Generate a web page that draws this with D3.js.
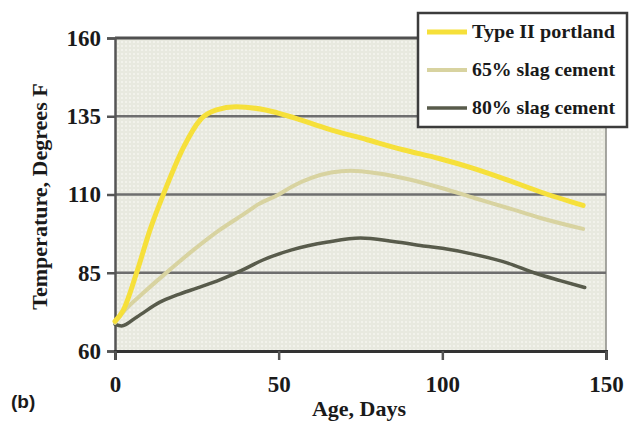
<!DOCTYPE html>
<html>
<head>
<meta charset="utf-8">
<script src="https://cdn.jsdelivr.net/npm/d3@7"></script>
<style>
    body { margin: 0; background: #fff; }
    svg text { font-family: "Liberation Serif", "Times New Roman", serif; font-weight: bold; fill: #1a1a1a; }
</style>
</head>
<body>
<svg id="chart" width="633" height="429"></svg>
<script>
"use strict";

// values
const seriesNames = ["Type II portland", "65% slag cement", "80% slag cement"];
const seriesColors = ["#f6e03a", "#d8d3a0", "#585b4b"];

const portlandDays = [0, 2.5, 6.6, 10.7, 15.3, 21, 26, 31, 37, 46, 55, 65, 77, 88, 99, 109, 120, 130, 143];
const portlandTemp = [69.5, 73, 85, 98.7, 111.4, 125.2, 133.8, 137, 138, 137, 134.4, 131, 127.5, 124.3, 121.5, 118.5, 114.6, 110.8, 106.5];

const slag65Days = [0, 3, 8.6, 15.9, 24, 32, 39, 44, 50, 54, 60, 66, 72, 80, 90, 100, 110, 120, 130, 143];
const slag65Temp = [69, 73, 78.5, 85.2, 92.3, 98.7, 103.5, 107, 110, 112.5, 115.3, 117, 117.6, 116.8, 114.8, 112, 108.8, 105.7, 102.5, 99];

const slag80Days = [0, 2, 6.7, 13.7, 19, 25, 32, 39, 45, 54, 65, 75, 85, 95, 100, 110, 120, 128, 136, 143.5];
const slag80Temp = [68.5, 68, 70.9, 75.6, 77.9, 80.1, 82.7, 85.9, 89, 92.3, 94.8, 96.1, 95, 93.5, 92.8, 90.8, 88.1, 85, 82.5, 80.3];

const yTicks = [60, 85, 110, 135, 160];
const xTicks = [0, 50, 100, 150];

const svg = d3.select("#chart");
const margin = { top: 38, right: 27, bottom: 78, left: 115 };
const width = 633, height = 429;

const x = d3.scaleLinear().domain([0, 150]).range([margin.left, width - margin.right]);
const y = d3.scaleLinear().domain([60, 160]).range([height - margin.bottom, margin.top]);

// dotted background
const defs = svg.append("defs");
const pat = defs.append("pattern")
    .attr("id", "dots")
    .attr("width", 4).attr("height", 4)
    .attr("patternUnits", "userSpaceOnUse");
pat.append("rect").attr("width", 4).attr("height", 4).attr("fill", "#e8e9df");
pat.append("circle").attr("cx", 2).attr("cy", 2).attr("r", 0.9).attr("fill", "#f7f7f1");

svg.append("rect")
    .attr("x", x(0)).attr("y", y(160))
    .attr("width", x(150) - x(0)).attr("height", y(60) - y(160))
    .attr("fill", "url(#dots)");

// right border
svg.append("line")
    .attr("x1", x(150)).attr("x2", x(150))
    .attr("y1", y(160)).attr("y2", y(60))
    .attr("stroke", "#8a8a84").attr("stroke-width", 1.5);

// gridlines
svg.selectAll(".grid").data(yTicks.filter(d => d > 60))
    .enter().append("line")
    .attr("class", "grid")
    .attr("x1", x(0)).attr("x2", x(150))
    .attr("y1", d => y(d)).attr("y2", d => y(d))
    .attr("stroke", d => d === 160 ? "#505050" : "#6e6e6e")
    .attr("stroke-width", d => d === 160 ? 3 : 2.5);

// axes
const yAxis = svg.append("g")
    .attr("transform", "translate(" + x(0) + ",0)")
    .call(d3.axisLeft(y).tickValues(yTicks).tickSize(8).tickPadding(6).tickFormat(d3.format("d")));
const xAxis = svg.append("g")
    .attr("transform", "translate(0," + y(60) + ")")
    .call(d3.axisBottom(x).tickValues(xTicks).tickSize(9).tickPadding(12).tickFormat(d3.format("d")));

[yAxis, xAxis].forEach(g => {
    g.select(".domain").attr("stroke", "#555").attr("stroke-width", 2.5);
    g.selectAll(".tick line").attr("stroke", "#555").attr("stroke-width", 2.5);
    g.selectAll(".tick text")
        .style("font-family", "'Liberation Serif', serif")
        .style("font-weight", "bold")
        .style("font-size", "23px")
        .attr("fill", "#1a1a1a");
});
xAxis.select(".domain").attr("stroke", "#333").attr("stroke-width", 3);
xAxis.selectAll(".tick text").attr("dy", "0.85em");

// lines
const series = [
    { name: seriesNames[0], days: portlandDays, temp: portlandTemp, color: seriesColors[0], w: 5 },
    { name: seriesNames[1], days: slag65Days, temp: slag65Temp, color: seriesColors[1], w: 4 },
    { name: seriesNames[2], days: slag80Days, temp: slag80Temp, color: seriesColors[2], w: 3.5 }
];

const line = d3.line()
    .x(d => x(d[0]))
    .y(d => y(d[1]))
    .curve(d3.curveMonotoneX);

svg.selectAll(".series").data(series.slice().reverse())
    .enter().append("path")
    .attr("class", "series")
    .attr("d", s => line(s.days.map((d, i) => [d, s.temp[i]])))
    .attr("fill", "none")
    .attr("stroke", s => s.color)
    .attr("stroke-width", s => s.w)
    .attr("stroke-linecap", "round");

// axis titles
svg.append("text")
    .attr("x", 359)
    .attr("y", 416)
    .attr("text-anchor", "middle")
    .style("font-size", "22px")
    .text("Age, Days");

svg.append("text")
    .attr("transform", "translate(47," + ((y(60) + y(160)) / 2 + 2) + ") rotate(-90)")
    .attr("text-anchor", "middle")
    .style("font-size", "22px")
    .text("Temperature, Degrees F");

svg.append("text")
    .attr("x", 11)
    .attr("y", 408)
    .style("font-family", "'Liberation Sans', Arial, sans-serif")
    .style("font-size", "19px")
    .text("(b)");

// legend
const legend = svg.append("g");
legend.append("rect")
    .attr("x", 418).attr("y", 13)
    .attr("width", 209).attr("height", 114)
    .attr("fill", "#fff")
    .attr("stroke", "#3c3c3c").attr("stroke-width", 2.5);

const items = legend.selectAll(".item").data(series)
    .enter().append("g")
    .attr("class", "item")
    .attr("transform", (d, i) => "translate(0," + (32 + i * 38) + ")");
items.append("line")
    .attr("x1", 427).attr("x2", 467)
    .attr("stroke", d => d.color)
    .attr("stroke-width", d => d.w);
items.append("text")
    .attr("x", 472)
    .attr("y", 6)
    .style("font-size", "19px")
    .attr("textLength", 143)
    .attr("lengthAdjust", "spacingAndGlyphs")
    .text(d => d.name);
</script>
</body>
</html>
